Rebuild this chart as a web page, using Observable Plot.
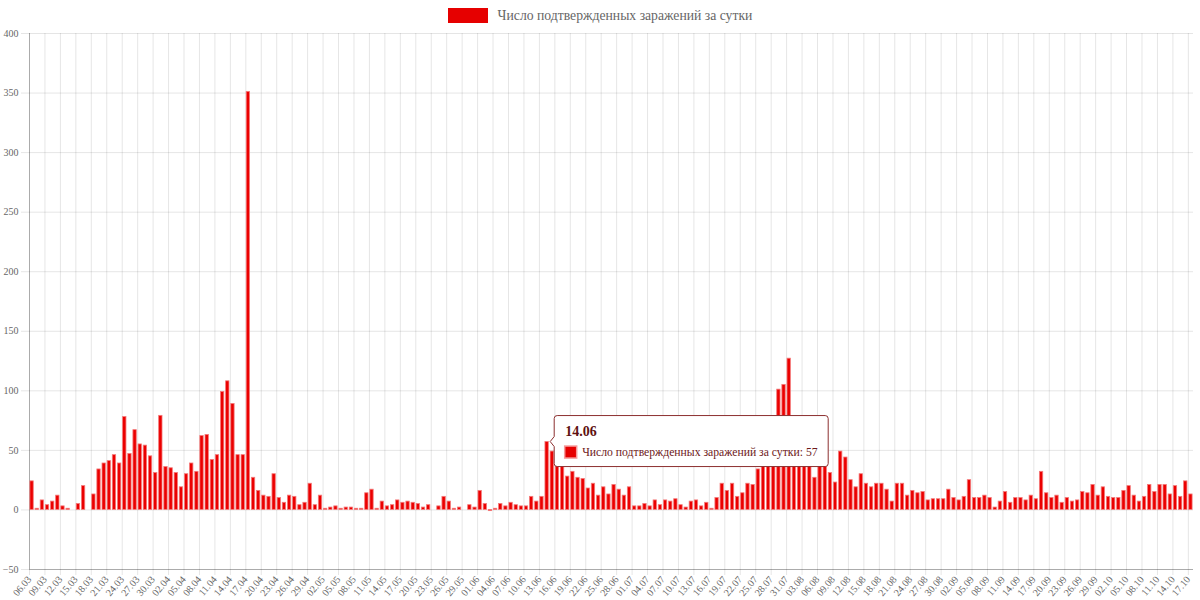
<!DOCTYPE html>
<html>
<head>
<meta charset="utf-8">
<script src="https://cdn.jsdelivr.net/npm/d3@7"></script>
<script src="https://cdn.jsdelivr.net/npm/@observablehq/plot@0.6"></script>
<style>
  html, body { margin: 0; padding: 0; background: #fff; }
  body { width: 1200px; height: 600px; overflow: hidden; font-family: "Liberation Serif", "Times New Roman", serif; }
  #legend { height: 28px; box-sizing: border-box; padding-top: 3px; display: flex; justify-content: center; align-items: center; }
  #legend .box { width: 40px; height: 15px; background: #e60000; margin-right: 10px; }
  #legend .lbl { font-size: 13.7px; color: #666; }
  #chart svg { display: block; overflow: visible; }
</style>
</head>
<body>
<div id="legend"><span class="box"></span><span class="lbl"></span></div>
<div id="chart"></div>
<script>
// ---- data ----
const seriesName = "Число подтвержденных заражений за сутки";
const startDate = "2020-03-06";
const dailyCases = [
  24, 1, 8, 4, 7, 12, 3, 1, 0, 5, 20, 0, 13, 34, 39, 41, 46, 39, 78, 47, 67, 55, 54, 45, 31, 79,
  36, 35, 31, 19, 30, 39, 32, 62, 63, 42, 46, 99, 108, 89, 46, 46, 351, 27, 16, 12, 11, 30, 10, 6, 12, 11, 4, 6, 22, 4,
  12, 1, 2, 3, 1, 2, 2, 1, 1, 14, 17, 1, 7, 3, 4, 8, 6, 7, 6, 5, 2, 4, 0, 3, 11, 7, 1, 2, 0, 4, 2,
  16, 5, -1, 1, 5, 3, 6, 4, 3, 3, 11, 7, 11, 57, 49, 42, 38, 28, 32, 27, 26, 18, 22, 12, 19, 13, 21, 17, 12, 19,
  3, 3, 5, 3, 8, 4, 8, 7, 9, 4, 2, 7, 8, 3, 6, 1, 10, 22, 16, 22, 11, 14, 22, 21, 34, 40, 42, 44, 101, 105, 127,
  58, 46, 44, 40, 27, 38, 40, 31, 23, 49, 44, 25, 19, 30, 22, 19, 22, 22, 17, 7, 22, 22, 12, 16, 14, 15, 8, 9, 9, 9, 17,
  10, 8, 11, 25, 10, 10, 12, 10, 2, 7, 15, 6, 10, 10, 8, 12, 9, 32, 14, 10, 12, 6, 10, 7, 8, 15, 14, 21, 12, 19,
  11, 10, 10, 16, 20, 12, 7, 11, 21, 15, 21, 21, 13, 20, 11, 24, 13
];
const yTicks = [-50, 0, 50, 100, 150, 200, 250, 300, 350, 400];
const highlightLabel = "14.06";

// ---- build table ----
const fmt = d3.utcFormat("%d.%m");
const start = new Date(startDate + "T00:00:00Z");
const data = dailyCases.map((value, i) => ({date: d3.utcDay.offset(start, i), value}));
const xTicks = data.filter((d, i) => i % 3 === 0).map(d => d.date);
const endDate = d3.utcDay.offset(data[data.length - 1].date, 1);
const highlight = data.find(d => fmt(d.date) === highlightLabel);

document.querySelector("#legend .lbl").textContent = seriesName;

const FONT = "'Liberation Serif', 'Times New Roman', serif";

function tooltip(index, scales) {
  const tipX = scales.x(d3.utcDay.offset(highlight.date, 1)) + 1;
  const tipY = scales.y(highlight.value);
  const w = 274, h = 51, r = 3, arrow = 5;
  const bx = tipX + 4, by = tipY - 26;
  const g = d3.create("svg:g").attr("font-family", FONT).attr("text-anchor", "start");
  const p = d3.path();
  p.moveTo(bx + r, by);
  p.lineTo(bx + w - r, by);
  p.arcTo(bx + w, by, bx + w, by + r, r);
  p.lineTo(bx + w, by + h - r);
  p.arcTo(bx + w, by + h, bx + w - r, by + h, r);
  p.lineTo(bx + r, by + h);
  p.arcTo(bx, by + h, bx, by + h - r, r);
  p.lineTo(bx, tipY + arrow);
  p.lineTo(tipX, tipY);
  p.lineTo(bx, tipY - arrow);
  p.lineTo(bx, by + r);
  p.arcTo(bx, by, bx + r, by, r);
  p.closePath();
  g.append("path").attr("d", p.toString()).attr("fill", "#fff").attr("stroke", "#8c2f2f").attr("stroke-width", 1);
  g.append("text").attr("x", bx + 11).attr("y", by + 20).attr("font-size", 14).attr("font-weight", "bold")
    .attr("text-anchor", "start").attr("fill", "#5e1111").text(highlightLabel);
  g.append("rect").attr("x", bx + 10.5).attr("y", by + 30.5).attr("width", 12).attr("height", 12)
    .attr("fill", "#e60000").attr("stroke", "#f59a9a").attr("stroke-width", 1.5);
  g.append("text").attr("x", bx + 28).attr("y", by + 40).attr("font-size", 11.7)
    .attr("text-anchor", "start").attr("fill", "#6e1a1a").text(`${seriesName}: ${highlight.value}`);
  return g.node();
}

const chart = Plot.plot({
  width: 1200,
  height: 572,
  marginTop: 5,
  marginBottom: 31,
  marginLeft: 29,
  marginRight: 7,
  style: {fontFamily: FONT, background: "#fff"},
  x: {type: "utc", domain: [start, endDate]},
  y: {domain: [-50, 400]},
  marks: [
    Plot.gridX(xTicks, {stroke: "#000", strokeOpacity: 0.1}),
    Plot.gridY(yTicks, {stroke: "#000", strokeOpacity: 0.1}),
    Plot.ruleX([start], {stroke: "#000", strokeOpacity: 0.25}),
    Plot.ruleY([-50], {stroke: "#000", strokeOpacity: 0.25}),
    Plot.axisY({ticks: yTicks, tickSize: 8, tickPadding: 3, fontSize: 10, stroke: "#000", strokeOpacity: 0.1, fill: "#666", label: null}),
    Plot.axisX({ticks: xTicks, tickFormat: fmt, tickRotate: -50, tickSize: 6, tickPadding: 2, fontSize: 10, stroke: "#000", strokeOpacity: 0.1, fill: "#666", label: null}),
    Plot.rectY(data, {
      x1: "date",
      x2: d => d3.utcDay.offset(d.date, 1),
      y: "value",
      fill: "#eb0000",
      stroke: "#f47a7a",
      strokeWidth: 0.8,
      insetLeft: 0.9,
      insetRight: 0.9
    }),
    tooltip
  ]
});
document.getElementById("chart").appendChild(chart);
</script>
</body>
</html>
